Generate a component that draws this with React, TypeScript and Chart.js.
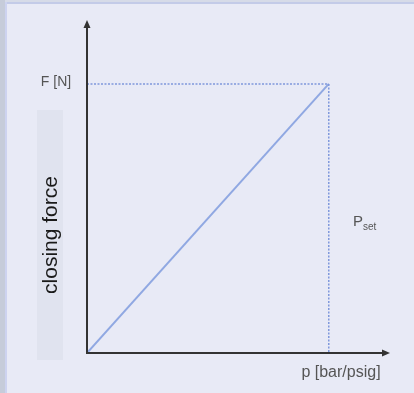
import React, { useEffect, useRef } from "react";
import { Chart, registerables } from "chart.js";

Chart.register(...registerables);

// Data (normalized: P_set = 1, F = 1)
const forceLine = [
  { x: 0, y: 0 },
  { x: 1, y: 1 },
];
const horizontalGuide = [
  { x: 0, y: 1 },
  { x: 1, y: 1 },
];
const verticalGuide = [
  { x: 1, y: 1 },
  { x: 1, y: 0 },
];
const xMax = 1.245;
const yMax = 1.23;
const yAxisLabel = "closing force";
const xAxisLabel = "p [bar/psig]";
const forceLabel = "F [N]";
const psetMain = "P";
const psetSub = "set";

const FONT = "'Liberation Sans', Arial, sans-serif";

const decorPlugin = {
  id: "decor",
  beforeDraw(chart: any) {
    const { ctx, width, height } = chart;
    ctx.save();
    ctx.fillStyle = "#e8eaf6";
    ctx.fillRect(0, 0, width, height);
    // top border
    ctx.fillStyle = "#d6dbe8";
    ctx.fillRect(0, 0, width, 2);
    ctx.fillStyle = "#c3cbe8";
    ctx.fillRect(0, 2, width, 2);
    // left strip
    ctx.fillStyle = "#c6ccda";
    ctx.fillRect(0, 0, 5, height);
    ctx.fillStyle = "#cdd3f0";
    ctx.fillRect(5, 2, 2, height);
    // closing force box
    ctx.fillStyle = "#e0e3ef";
    ctx.fillRect(37, 110, 26, 250);
    ctx.restore();
  },
  afterDraw(chart: any) {
    const { ctx, chartArea } = chart;
    const xs = chart.scales.x;
    const ys = chart.scales.y;
    const x0 = xs.getPixelForValue(0);
    const y0 = ys.getPixelForValue(0);
    const top = chartArea.top;
    const right = chartArea.right;
    ctx.save();
    ctx.strokeStyle = "#333";
    ctx.fillStyle = "#333";
    ctx.lineWidth = 2;
    ctx.beginPath();
    ctx.moveTo(x0, y0 + 1);
    ctx.lineTo(x0, top + 4);
    ctx.moveTo(x0 - 1, y0);
    ctx.lineTo(right - 4, y0);
    ctx.stroke();
    // arrowheads
    ctx.beginPath();
    ctx.moveTo(x0, top - 2);
    ctx.lineTo(x0 - 3.5, top + 6);
    ctx.lineTo(x0 + 3.5, top + 6);
    ctx.closePath();
    ctx.fill();
    ctx.beginPath();
    ctx.moveTo(right + 2, y0);
    ctx.lineTo(right - 6, y0 - 3.5);
    ctx.lineTo(right - 6, y0 + 3.5);
    ctx.closePath();
    ctx.fill();

    // labels
    ctx.fillStyle = "#555";
    ctx.font = `14px ${FONT}`;
    ctx.textAlign = "center";
    ctx.textBaseline = "middle";
    ctx.fillText(forceLabel, 56, ys.getPixelForValue(1) - 2);

    ctx.font = `16px ${FONT}`;
    ctx.fillText(xAxisLabel, 341, 373);

    ctx.textAlign = "left";
    ctx.font = `15px ${FONT}`;
    ctx.fillText(psetMain, 353, 222);
    ctx.font = `10px ${FONT}`;
    ctx.fillText(psetSub, 363, 227);

    ctx.fillStyle = "#1a1a1a";
    ctx.translate(51, 235);
    ctx.rotate(-Math.PI / 2);
    ctx.textAlign = "center";
    ctx.font = `21px ${FONT}`;
    ctx.fillText(yAxisLabel, 0, 0);
    ctx.restore();
  },
};

export default function App() {
  const ref = useRef<HTMLCanvasElement>(null);
  useEffect(() => {
    document.body.style.margin = "0";
    const chart = new Chart(ref.current!, {
      type: "scatter",
      data: {
        datasets: [
          {
            data: horizontalGuide,
            showLine: true,
            borderColor: "#7f98dc",
            borderWidth: 1.5,
            borderDash: [2, 1.5],
            pointRadius: 0,
          },
          {
            data: verticalGuide,
            showLine: true,
            borderColor: "#7f98dc",
            borderWidth: 1.5,
            borderDash: [2, 1.5],
            pointRadius: 0,
          },
          {
            data: forceLine,
            showLine: true,
            borderColor: "#90a8e2",
            borderWidth: 2,
            pointRadius: 0,
          },
        ],
      },
      options: {
        animation: false,
        responsive: false,
        devicePixelRatio: 1,
        layout: { padding: { left: 87, right: 26, top: 22, bottom: 40 } },
        plugins: { legend: { display: false }, tooltip: { enabled: false } },
        scales: {
          x: { type: "linear", min: 0, max: xMax, display: false },
          y: { type: "linear", min: 0, max: yMax, display: false },
        },
      },
      plugins: [decorPlugin],
    });
    return () => chart.destroy();
  }, []);
  return (
    <div style={{ width: 414, height: 393 }}>
      <canvas ref={ref} width={414} height={393} />
    </div>
  );
}
